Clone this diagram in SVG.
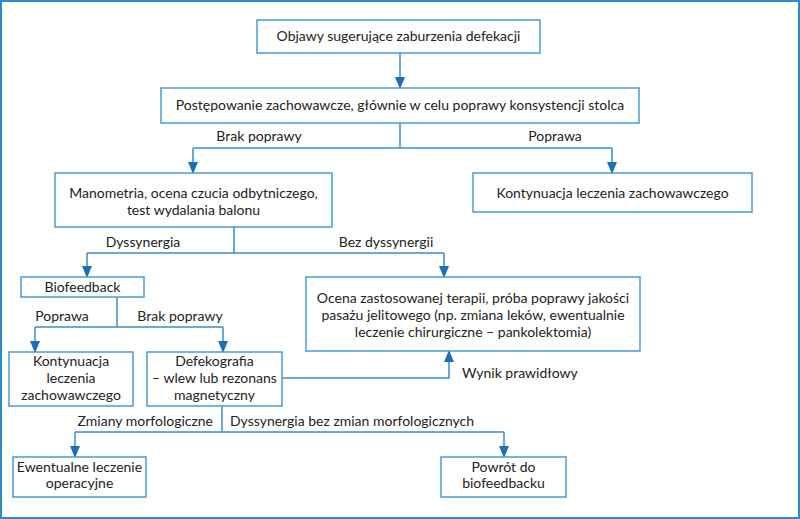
<svg xmlns="http://www.w3.org/2000/svg" width="800" height="519" viewBox="0 0 800 519">
<defs>
<style>
.box{fill:#ffffff;stroke:#4a9ad4;stroke-width:1.5}
.ln{fill:none;stroke:#3a8ccc;stroke-width:1.5}
text{font-family:Lato,"Noto Sans","DejaVu Sans",sans-serif;font-size:14px;fill:#222222}
.c{text-anchor:middle}
.e{text-anchor:end}
</style>
<marker id="ad" markerUnits="userSpaceOnUse" markerWidth="12" markerHeight="10" refX="11" refY="5" orient="auto" viewBox="0 0 12 10">
<path d="M0,0 L12,5 L0,10 Z" fill="#1b6fb5"/>
</marker>
</defs>
<rect x="1" y="1" width="798" height="517" fill="#ffffff" stroke="#2e8bc9" stroke-width="2"/>
<g id="connectors">
<path class="ln" d="M400,53 V88" marker-end="url(#ad)"/>
<path class="ln" d="M400,123 V148"/>
<path class="ln" d="M193,148 H612"/>
<path class="ln" d="M193,148 V173" marker-end="url(#ad)"/>
<path class="ln" d="M612,148 V173" marker-end="url(#ad)"/>
<path class="ln" d="M234,227 V253"/>
<path class="ln" d="M87,253 H444"/>
<path class="ln" d="M87,253 V277" marker-end="url(#ad)"/>
<path class="ln" d="M444,253 V277" marker-end="url(#ad)"/>
<path class="ln" d="M117,297 V327"/>
<path class="ln" d="M35,327 H223"/>
<path class="ln" d="M35,327 V352" marker-end="url(#ad)"/>
<path class="ln" d="M223,327 V352" marker-end="url(#ad)"/>
<path class="ln" d="M282,378 H449 V351" marker-end="url(#ad)"/>
<path class="ln" d="M222,406 V432"/>
<path class="ln" d="M75,432 H504"/>
<path class="ln" d="M75,432 V457" marker-end="url(#ad)"/>
<path class="ln" d="M504,432 V457" marker-end="url(#ad)"/>
<text class="c" x="259" y="141">Brak poprawy</text>
<text class="c" x="555" y="141">Poprawa</text>
<text class="c" x="143" y="247">Dyssynergia</text>
<text class="c" x="386" y="247">Bez dyssynergii</text>
<text class="c" x="62" y="321">Poprawa</text>
<text class="c" x="180" y="321">Brak poprawy</text>
<text x="462" y="378">Wynik prawidłowy</text>
<text class="e" x="213" y="426">Zmiany morfologiczne</text>
<text x="230" y="426">Dyssynergia bez zmian morfologicznych</text>
</g>
<g id="n1"><rect class="box" x="257" y="20" width="283" height="33"/><text class="c" x="398.5" y="41">Objawy sugerujące zaburzenia defekacji</text></g>
<g id="n2"><rect class="box" x="161" y="88" width="478" height="35"/><text class="c" x="400" y="110">Postępowanie zachowawcze, głównie w celu poprawy konsystencji stolca</text></g>
<g id="n3"><rect class="box" x="55" y="173" width="277" height="54"/><text class="c" x="193.5" y="198">Manometria, ocena czucia odbytniczego,</text><text class="c" x="193.5" y="215">test wydalania balonu</text></g>
<g id="n4"><rect class="box" x="473" y="173" width="279" height="39"/><text class="c" x="612.5" y="198">Kontynuacja leczenia zachowawczego</text></g>
<g id="n5"><rect class="box" x="21" y="277" width="123" height="20"/><text class="c" x="82.5" y="292">Biofeedback</text></g>
<g id="n6"><rect class="box" x="306" y="277" width="334" height="74"/><text class="c" x="473" y="303">Ocena zastosowanej terapii, próba poprawy jakości</text><text class="c" x="473" y="320">pasażu jelitowego (np. zmiana leków, ewentualnie</text><text class="c" x="473" y="337">leczenie chirurgiczne – pankolektomia)</text></g>
<g id="n7"><rect class="box" x="9" y="352" width="124" height="54"/><text class="c" x="71" y="366">Kontynuacja</text><text class="c" x="71" y="383">leczenia</text><text class="c" x="71" y="400">zachowawczego</text></g>
<g id="n8"><rect class="box" x="147" y="352" width="135" height="54"/><text class="c" x="214.5" y="366">Defekografia</text><text class="c" x="214.5" y="383">– wlew lub rezonans</text><text class="c" x="214.5" y="400">magnetyczny</text></g>
<g id="n9"><rect class="box" x="13" y="457" width="133" height="40"/><text class="c" x="79.5" y="472">Ewentualne leczenie</text><text class="c" x="79.5" y="488">operacyjne</text></g>
<g id="n10"><rect class="box" x="441" y="457" width="125" height="40"/><text class="c" x="503.5" y="472">Powrót do</text><text class="c" x="503.5" y="488">biofeedbacku</text></g>
</svg>
